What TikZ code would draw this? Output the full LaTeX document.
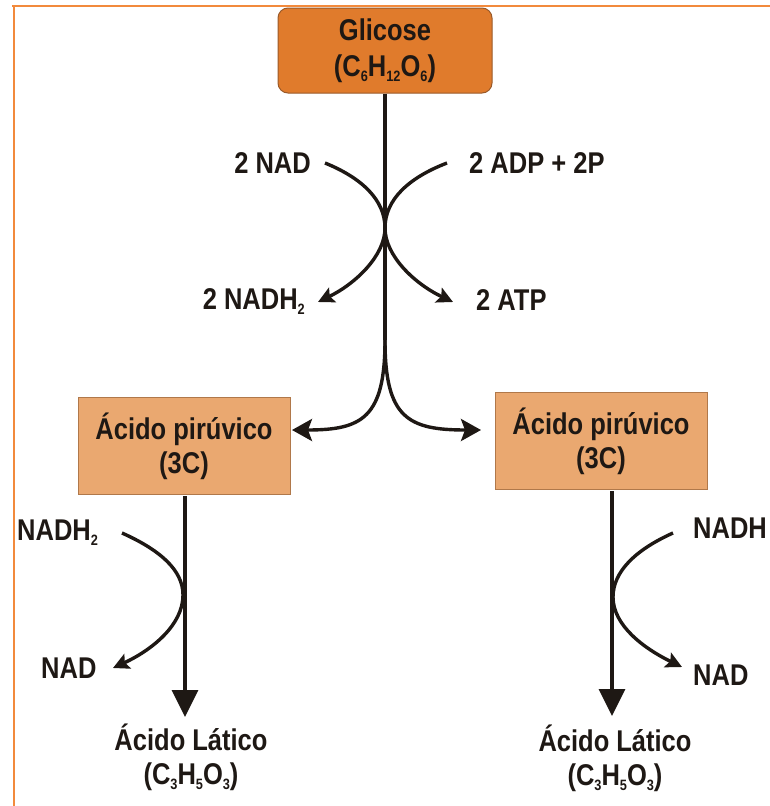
\documentclass[tikz,border=0pt]{standalone}
\usepackage{fontspec}
\setmainfont[FakeStretch=0.85]{Liberation Sans}
\usetikzlibrary{arrows.meta}
\definecolor{frameor}{HTML}{F28A3C}
\definecolor{glifill}{HTML}{E07B2C}
\definecolor{glidraw}{HTML}{9A5A2A}
\definecolor{pirfill}{HTML}{EAA870}
\definecolor{pirdraw}{HTML}{B0784A}
\definecolor{ink}{HTML}{1E1814}
\newcommand\sbx[1]{\raisebox{-5pt}{\fontsize{15}{15}\selectfont #1}}
\begin{document}
\begin{tikzpicture}[x=1pt,y=-1pt,
  lbl/.style={font=\fontsize{30}{34}\selectfont\bfseries, text=ink, inner sep=0pt},
  glibox/.style={lbl, draw=glidraw, fill=glifill, line width=1pt, rounded corners=10pt,
     minimum width=214pt, minimum height=85pt, align=center},
  pirbox/.style={lbl, draw=pirdraw, fill=pirfill, line width=1pt,
     minimum width=212pt, minimum height=97pt, align=center},
  prod/.style={lbl, align=center},
  flow/.style={draw=ink, line width=3.4pt},
  smallarr/.style={flow, -{Stealth[length=16pt,width=16pt,inset=3pt]}},
  midarr/.style={flow, -{Stealth[length=20pt,width=22pt,inset=4pt]}},
  bigarr/.style={flow, -{Triangle[length=27pt,width=26pt]}}
]
\useasboundingbox (0,0) rectangle (770,806);
\fill[white] (0,0) rectangle (770,806);
% frame lines
\draw[frameor, line width=2.5pt] (12,6) -- (770,6);
\draw[frameor, line width=2.5pt] (14,6) -- (14,806);

% nodes
\node[glibox] (gli) at (385,50.5) {Glicose\\[2pt](C\sbx{6}H\sbx{12}O\sbx{6})};
\node[pirbox] (pir1) at (184,446) {Ácido pirúvico\\(3C)};
\node[pirbox] (pir2) at (601,441) {Ácido pirúvico\\(3C)};
\node[prod] (lat1) at (191,757) {Ácido Lático\\(C\sbx{3}H\sbx{5}O\sbx{3})};
\node[prod] (lat2) at (615,758) {Ácido Lático\\(C\sbx{3}H\sbx{5}O\sbx{3})};

\node[lbl, anchor=east] (nad2) at (311,163) {2 NAD};
\node[lbl, anchor=west] (adp) at (469,163) {2 ADP + 2P};
\node[lbl, anchor=east] (nadh2) at (305,302) {2 NADH\sbx{2}};
\node[lbl, anchor=west] (atp) at (476,300) {2 ATP};
\node[lbl, anchor=west] (lnadh) at (17,533) {NADH\sbx{2}};
\node[lbl, anchor=west] (lnad) at (41,668) {NAD};
\node[lbl, anchor=west] (rnadh) at (693,528) {NADH};
\node[lbl, anchor=west] (rnad) at (693,675) {NAD};

% coordinates for curve ends
\coordinate (split) at (385,340);
\coordinate (s1) at (325,163);
\coordinate (e1) at (318,302);
\coordinate (s2) at (447,163);
\coordinate (e2) at (453,302);
\coordinate (t1) at (292,430);
\coordinate (t2) at (481,430);
\coordinate (ls) at (122,533);
\coordinate (le) at (113,668);
\coordinate (rs) at (673,533);
\coordinate (re) at (682,667);
\coordinate (lx) at (185,496);
\coordinate (rx) at (612,491);

% main stem
\draw[flow] (gli.south) -- (split);
% X of glycolysis
\draw[smallarr] (s1) .. controls (362,178) and (385,200) .. (385,228)
   .. controls (385,256) and (355,284) .. (e1);
\draw[smallarr] (s2) .. controls (408,178) and (385,200) .. (385,228)
   .. controls (385,256) and (415,284) .. (e2);
% split to pyruvate
\draw[midarr] (split) .. controls (385,418) and (362,430) .. (t1);
\draw[midarr] (split) .. controls (385,418) and (408,430) .. (t2);
% to lactate
\draw[bigarr] (lx) -- (185,717);
\draw[bigarr] (rx) -- (612,716);
% side reactions
\draw[smallarr] (ls) .. controls (160,550) and (183,570) .. (183,595)
   .. controls (183,625) and (152,650) .. (le);
\draw[smallarr] (rs) .. controls (635,550) and (613,572) .. (613,597)
   .. controls (613,625) and (643,648) .. (re);
\end{tikzpicture}
\end{document}
